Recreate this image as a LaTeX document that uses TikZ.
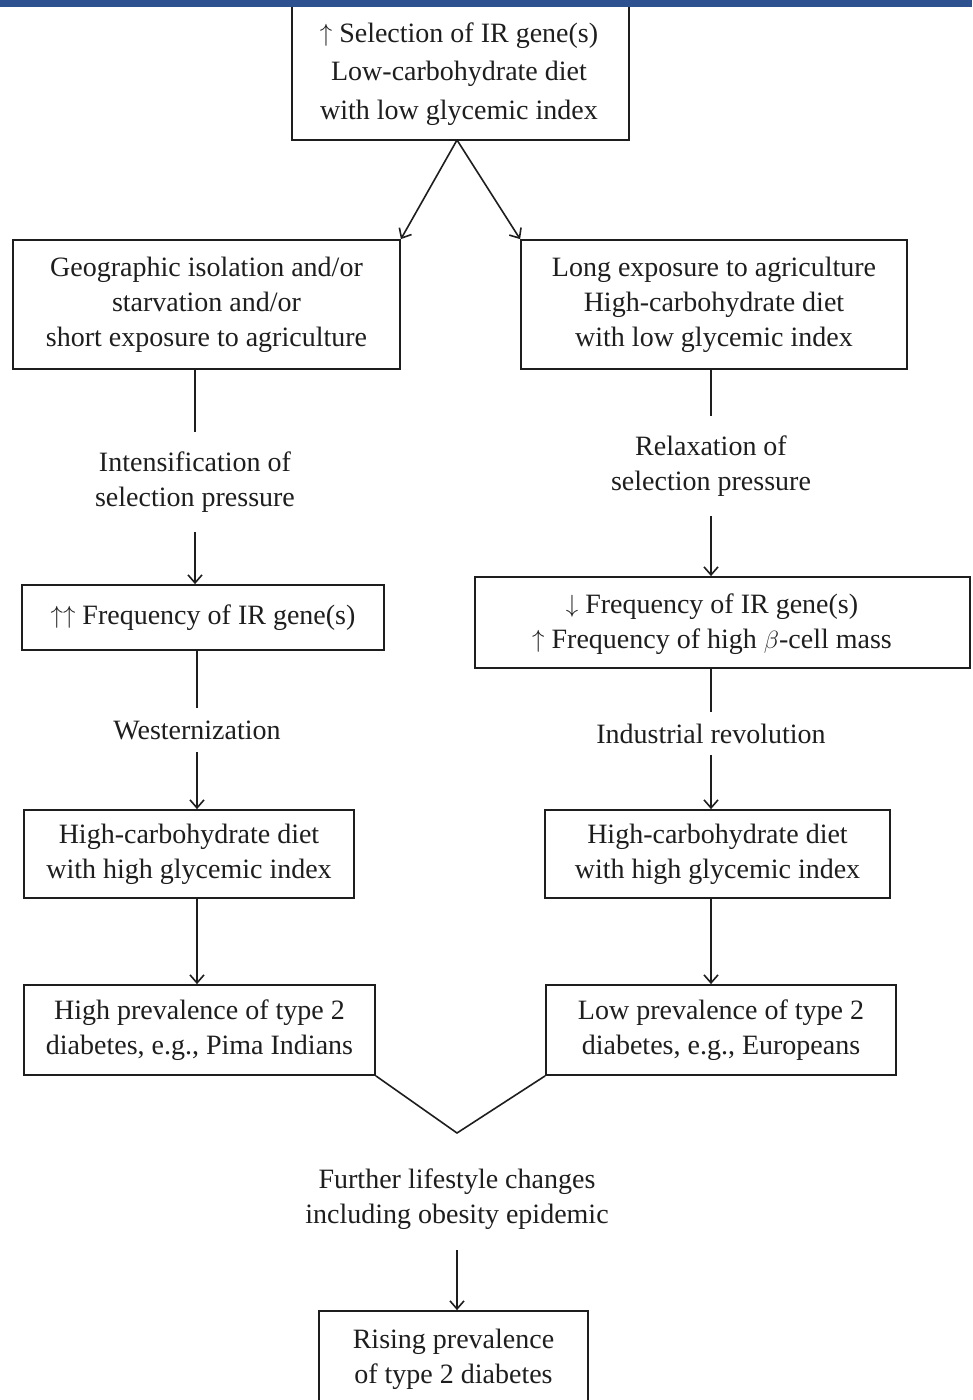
\documentclass[tikz,border=0pt]{standalone}
\usepackage{fontspec}
\setmainfont{Liberation Serif}
\usepackage{graphicx}
\usetikzlibrary{arrows.meta}
\definecolor{barblue}{RGB}{46,82,143}
\definecolor{ink}{RGB}{30,30,30}
\newcommand{\upar}{\raisebox{1pt}{$\uparrow$}}
\newcommand{\dnar}{\raisebox{1pt}{$\downarrow$}}
\begin{document}
\begin{tikzpicture}[x=1pt,y=-1pt,
  txt/.style={font=\fontsize{28}{35}\selectfont, text=ink, align=center},
  box/.style={txt, draw=ink, line width=1.8pt, rectangle, inner sep=0pt},
  lbl/.style={txt, inner sep=0pt},
  conn/.style={draw=ink, line width=1.6pt},
  arr/.style={conn, -{Straight Barb[length=8pt,width=14pt]}}]
\useasboundingbox (0,0) rectangle (972,1400);
\clip (0,0) rectangle (972,1400);
\fill[white] (0,0) rectangle (972,1400);

% boxes
\node[box, minimum width=337, minimum height=136] (T) at (460.5,72) {};
\node[lbl, font=\fontsize{28}{38.5}\selectfont] (Tt) at (459,74)
  {\upar\ Selection of IR gene(s)\\Low-carbohydrate diet\\with low glycemic index};
\node[box, minimum width=387, minimum height=129] (L1) at (206.5,304.5)
  {Geographic isolation and/or\\starvation and/or\\short exposure to agriculture};
\node[box, minimum width=386, minimum height=129] (R1) at (714,304.5)
  {Long exposure to agriculture\\High-carbohydrate diet\\with low glycemic index};
\node[box, minimum width=362, minimum height=65] (L2) at (203,617.5)
  {\upar\upar\ Frequency of IR gene(s)};
\node[box, minimum width=495, minimum height=91] (R2) at (722.5,622.5) {};
\node[lbl] (R2t) at (712,624)
  {\dnar\ Frequency of IR gene(s)\\\upar\ Frequency of high $\beta$-cell mass};
\node[box, minimum width=330, minimum height=88] (L3) at (189,854)
  {High-carbohydrate diet\\with high glycemic index};
\node[box, minimum width=345, minimum height=88] (R3) at (717.5,854)
  {High-carbohydrate diet\\with high glycemic index};
\node[box, minimum width=351, minimum height=90] (L4) at (199.5,1030)
  {High prevalence of type 2\\diabetes, e.g., Pima Indians};
\node[box, minimum width=350, minimum height=90] (R4) at (721,1030)
  {Low prevalence of type 2\\diabetes, e.g., Europeans};
\node[box, minimum width=269, minimum height=97] (B) at (453.5,1359.5)
  {Rising prevalence\\of type 2 diabetes};

% labels
\node[lbl, minimum height=100] (lab1) at (195,482) {Intensification of\\selection pressure};
\node[lbl, minimum height=100] (lab2) at (711,466) {Relaxation of\\selection pressure};
\node[lbl, minimum height=44] (lab3) at (197,730) {Westernization};
\node[lbl, minimum height=43] (lab4) at (711,733.5) {Industrial revolution};
\node[lbl, minimum height=102] (lab5) at (457,1199) {Further lifestyle changes\\including obesity epidemic};
\coordinate (apex) at (457,1133);
\coordinate (top) at (457,140);

% connectors
\draw[arr] (top) -- (L1.north east);
\draw[arr] (top) -- (R1.north west);
\draw[conn] (L1.south -| lab1.north) -- (lab1.north);
\draw[arr] (lab1.south) -- (L2.north -| lab1.south);
\draw[conn] (L2.south -| lab3.north) -- (lab3.north);
\draw[arr] (lab3.south) -- (L3.north -| lab3.south);
\draw[arr] (L3.south -| lab3.south) -- (L4.north -| lab3.south);
\draw[conn] (R1.south -| lab2.north) -- (lab2.north);
\draw[arr] (lab2.south) -- (R2.north -| lab2.south);
\draw[conn] (R2.south -| lab4.north) -- (lab4.north);
\draw[arr] (lab4.south) -- (R3.north -| lab4.south);
\draw[arr] (R3.south -| lab4.south) -- (R4.north -| lab4.south);
\draw[conn] (L4.south east) -- (apex) -- (R4.south west);
\draw[arr] (lab5.south) -- (B.north -| lab5.south);

% top bar
\fill[barblue] (0,0) rectangle (972,7);
\end{tikzpicture}
\end{document}
